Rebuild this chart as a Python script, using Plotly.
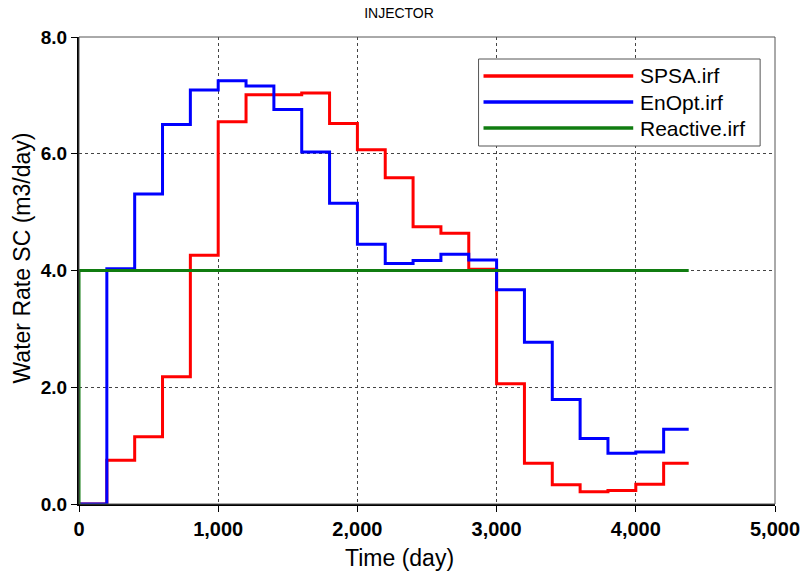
import plotly.graph_objects as go

# Step boundaries (days)
time_edges = [0, 200, 400, 600, 800, 1000, 1200, 1400, 1600, 1800, 2000, 2200,
              2400, 2600, 2800, 3000, 3200, 3400, 3600, 3800, 4000, 4200, 4380]

spsa = [0.0, 0.75, 1.15, 2.18, 4.26, 6.55, 7.01, 7.01, 7.04, 6.52, 6.07, 5.59,
        4.75, 4.64, 4.02, 2.06, 0.70, 0.33, 0.21, 0.23, 0.34, 0.70]
enopt = [0.0, 4.03, 5.31, 6.50, 7.09, 7.25, 7.16, 6.76, 6.03, 5.15, 4.45, 4.12,
         4.17, 4.28, 4.18, 3.67, 2.77, 1.79, 1.12, 0.87, 0.89, 1.28]
reactive_time = [0, 0, 4380]
reactive = [0.0, 4.0, 4.0]

series_names = ["SPSA.irf", "EnOpt.irf", "Reactive.irf"]
series_colors = ["#ff0000", "#0000ff", "#107c10"]

x_ticks = [0, 1000, 2000, 3000, 4000, 5000]
y_ticks = [0, 2, 4, 6, 8]

FONT = "Arial, Liberation Sans, sans-serif"

# plot-area geometry in pixels (for placing the legend box and titles)
W, H = 812, 577
L, R, T, B = 79, 31, 37, 73
PW, PH = W - L - R, H - T - B


def px_x(p):
    return (p - L) / PW


def px_y(p):
    return (H - B - p) / PH


fig = go.Figure()
fig.add_trace(go.Scatter(x=time_edges, y=spsa + [spsa[-1]], mode="lines",
                         line=dict(color=series_colors[0], width=3, shape="hv"),
                         name=series_names[0], showlegend=False))
fig.add_trace(go.Scatter(x=time_edges, y=enopt + [enopt[-1]], mode="lines",
                         line=dict(color=series_colors[1], width=3, shape="hv"),
                         name=series_names[1], showlegend=False))
fig.add_trace(go.Scatter(x=reactive_time, y=reactive, mode="lines",
                         line=dict(color=series_colors[2], width=3),
                         name=series_names[2], showlegend=False))

shapes = [dict(type="rect", xref="paper", yref="paper", x0=0, y0=0, x1=1, y1=1,
               line=dict(color="#555", width=1), layer="above"),
          dict(type="rect", xref="paper", yref="paper",
               x0=px_x(482), x1=px_x(766), y0=px_y(146), y1=px_y(59),
               line=dict(color="#555", width=1), fillcolor="white", layer="above")]
annotations = []
row_y = [76, 102, 128]
for name, color, ry in zip(series_names, series_colors, row_y):
    shapes.append(dict(type="line", xref="paper", yref="paper",
                       x0=px_x(487), x1=px_x(638), y0=px_y(ry), y1=px_y(ry),
                       line=dict(color=color, width=3.5), layer="above"))
    annotations.append(dict(text=name, xref="paper", yref="paper",
                            x=px_x(643), y=px_y(ry), xanchor="left", yanchor="middle",
                            showarrow=False, font=dict(size=21, family=FONT, color="black")))

# axis titles
annotations.append(dict(text="Time (day)", xref="paper", yref="paper",
                        x=px_x(402), y=px_y(558), xanchor="center", yanchor="middle",
                        showarrow=False, font=dict(size=23, family=FONT, color="black")))
annotations.append(dict(text="Water Rate SC (m3/day)", xref="paper", yref="paper",
                        x=px_x(22), y=px_y(258), xanchor="center", yanchor="middle",
                        textangle=-90, showarrow=False,
                        font=dict(size=23, family=FONT, color="black")))

fig.update_layout(
    width=W, height=H,
    margin=dict(l=L, r=R, t=T, b=B),
    paper_bgcolor="white", plot_bgcolor="white",
    font=dict(family=FONT, color="black"),
    showlegend=False,
    title=dict(text="INJECTOR", x=399 / W, xanchor="center", y=1 - 13 / H, yanchor="middle",
               font=dict(size=14, family=FONT)),
    xaxis=dict(range=[0, 5000], tickvals=x_ticks, tickformat=",",
               showline=True, linecolor="black", linewidth=2, mirror=False,
               ticks="outside", ticklen=6, tickcolor="black",
               tickfont=dict(size=20, family=FONT, weight="bold"),
               showgrid=True, gridcolor="#444", griddash="3px,3px", gridwidth=1,
               zeroline=False),
    yaxis=dict(range=[0, 8], tickvals=y_ticks, tickformat=".1f",
               showline=True, linecolor="black", linewidth=2, mirror=False,
               ticks="outside", ticklen=6, tickcolor="black",
               tickfont=dict(size=19, family=FONT, weight="bold"),
               showgrid=True, gridcolor="#444", griddash="3px,3px", gridwidth=1,
               zeroline=False),
    shapes=shapes,
    annotations=annotations,
)

fig.write_html("out.html")
